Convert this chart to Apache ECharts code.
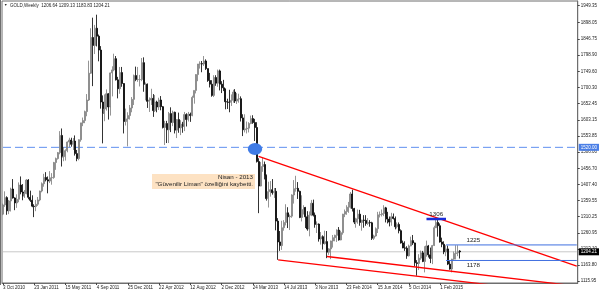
<!DOCTYPE html>
<html><head><meta charset="utf-8">
<script src="https://cdn.jsdelivr.net/npm/echarts@6.0.0/dist/echarts.min.js"></script>
<style>html,body{margin:0;padding:0;background:#fff;}#chart{width:600px;height:293px;}</style>
</head><body><div id="chart"></div>
<script>
// ---- data ----
const startDate = '2010-10-03';
const missingWeeks = ['2012-01-01', '2014-12-28'];
const totalSlots = 295;
const opens = [1318,1346,1368,1328,1358,1394,1367,1352,1363,1406,1385,1373,1380,1421,1369,1360,1342,1341,1348,1361,
1388,1410,1429,1422,1418,1428,1429,1474,1486,1504,1556,1491,1492,1510,1536,1542,1529,1539,1501,1486,
1543,1594,1601,1628,1663,1744,1852,1828,1880,1856,1814,1657,1623,1636,1682,1642,1745,1754,1788,1724,
1697,1746,1713,1598,1606,1616,1639,1665,1737,1725,1725,1725,1776,1710,1711,1659,1663,1668,1631,1657,
1642,1663,1643,1580,1592,1573,1622,1595,1626,1572,1604,1579,1590,1584,1619,1604,1620,1616,1671,1692,
1740,1772,1773,1772,1781,1758,1722,1711,1677,1731,1714,1751,1711,1700,1697,1658,1657,1656,1662,1687,
1660,1666,1667,1609,1573,1576,1578,1592,1607,1595,1580,1477,1403,1462,1468,1435,1365,1386,1392,1383,
1387,1297,1234,1223,1277,1293,1322,1310,1312,1376,1395,1396,1387,1308,1332,1338,1310,1273,1315,1351,
1315,1287,1288,1243,1250,1229,1235,1203,1213,1237,1247,1254,1270,1240,1262,1318,1323,1326,1339,1379,
1335,1294,1304,1318,1293,1300,1299,1290,1293,1292,1245,1252,1274,1316,1317,1320,1337,1310,1303,1294,
1310,1305,1280,1287,1268,1231,1216,1215,1192,1222,1238,1231,1171,1169,1185,1201,1175,1191,1222,1195,
1184,1223,1277,1293,1283,1234,1227,1204,1213,1167,1152,1182,1199,1201,1206.64];
const highs = [1350,1387,1372,1361,1398,1424,1369,1378,1414,1432,1409,1391,1424,1424,1389,1375,1348,1361,1370,1389,
1414,1440,1445,1432,1448,1442,1476,1489,1506,1569,1577,1521,1514,1538,1549,1549,1548,1556,1512,1544,
1594,1610,1631,1681,1782,1880,1912,1890,1921,1861,1826,1677,1680,1695,1684,1746,1765,1803,1796,1733,
1763,1763,1714,1637,1626,1648,1672,1740,1764,1763,1739,1790,1792,1716,1713,1671,1697,1681,1678,1661,
1670,1675,1645,1600,1600,1627,1641,1631,1628,1605,1625,1602,1597,1627,1623,1627,1625,1676,1692,1741,
1772,1780,1781,1796,1786,1758,1745,1723,1738,1738,1755,1755,1720,1724,1697,1667,1694,1680,1694,1696,
1684,1682,1674,1620,1620,1598,1596,1616,1617,1606,1596,1487,1476,1488,1477,1438,1416,1418,1424,1397,
1397,1306,1267,1298,1300,1348,1339,1317,1378,1421,1434,1415,1389,1375,1345,1340,1327,1326,1361,1362,
1323,1296,1290,1264,1254,1268,1267,1215,1238,1255,1256,1272,1279,1268,1319,1332,1345,1355,1385,1392,
1337,1307,1332,1331,1301,1315,1315,1306,1300,1295,1256,1278,1325,1326,1332,1345,1340,1325,1311,1322,
1320,1311,1293,1293,1272,1238,1236,1221,1226,1250,1255,1232,1179,1197,1208,1207,1221,1238,1225,1217,
1225,1283,1307,1305,1290,1247,1236,1224,1223,1176,1183,1205,1224,1224,1209.13];
const lows = [1315,1340,1316,1318,1326,1365,1330,1337,1354,1378,1360,1367,1378,1363,1355,1339,1309,1327,1343,1357,
1384,1401,1417,1381,1412,1407,1425,1452,1483,1499,1462,1478,1480,1505,1520,1522,1512,1495,1478,1481,
1537,1584,1593,1614,1660,1742,1705,1802,1825,1780,1637,1532,1599,1631,1604,1616,1674,1750,1722,1668,
1682,1703,1562,1586,1523,1604,1626,1648,1720,1718,1704,1720,1688,1662,1639,1627,1648,1612,1627,1626,
1633,1632,1577,1527,1533,1533,1566,1584,1562,1548,1564,1557,1564,1569,1583,1598,1597,1614,1652,1683,
1720,1758,1747,1766,1754,1718,1701,1673,1672,1706,1703,1692,1684,1690,1635,1636,1626,1645,1655,1654,
1651,1655,1598,1554,1565,1562,1565,1590,1591,1539,1474,1321,1402,1446,1423,1359,1338,1371,1377,1367,
1269,1180,1207,1210,1268,1284,1276,1270,1307,1350,1386,1364,1306,1296,1317,1276,1268,1251,1312,1311,
1277,1261,1235,1226,1211,1226,1185,1195,1182,1217,1236,1234,1238,1239,1256,1309,1316,1322,1335,1326,
1288,1277,1289,1283,1268,1277,1283,1285,1280,1240,1240,1250,1261,1308,1311,1312,1293,1290,1281,1283,
1302,1272,1275,1260,1229,1215,1207,1183,1190,1221,1225,1160,1132,1149,1180,1173,1142,1190,1187,1170,
1167,1222,1276,1250,1232,1218,1197,1191,1164,1150,1142,1180,1181,1191,1183.83];
const closes = [1346,1368,1328,1358,1394,1367,1352,1363,1406,1385,1373,1380,1421,1369,1360,1342,1341,1348,1361,1388,
1410,1429,1422,1418,1428,1429,1474,1486,1504,1556,1491,1492,1510,1536,1542,1529,1539,1501,1486,1543,
1594,1601,1628,1663,1744,1852,1828,1880,1856,1814,1657,1623,1636,1682,1642,1745,1754,1788,1724,1697,
1746,1713,1598,1606,1616,1639,1665,1737,1725,1725,1725,1776,1710,1711,1659,1663,1668,1631,1657,1642,
1663,1643,1580,1592,1573,1622,1595,1626,1572,1604,1579,1590,1584,1619,1604,1620,1616,1671,1692,1740,
1772,1773,1772,1781,1758,1722,1711,1677,1731,1714,1751,1711,1700,1697,1658,1657,1656,1662,1687,1660,
1666,1667,1609,1573,1576,1578,1592,1607,1595,1580,1477,1403,1462,1468,1435,1365,1386,1392,1383,1387,
1297,1234,1223,1277,1293,1322,1310,1312,1376,1395,1396,1387,1308,1332,1338,1310,1273,1315,1351,1315,
1287,1288,1243,1250,1229,1235,1203,1213,1237,1247,1254,1270,1240,1262,1318,1323,1326,1339,1379,1335,
1294,1304,1318,1293,1300,1299,1290,1293,1292,1245,1252,1274,1316,1317,1320,1337,1310,1303,1294,1310,
1305,1280,1287,1268,1231,1216,1215,1192,1222,1238,1231,1171,1169,1185,1201,1175,1191,1222,1195,1184,
1223,1277,1293,1283,1234,1227,1204,1213,1167,1152,1182,1199,1201,1206,1204.21];
const xTickLabels = ['3 Oct 2010','23 Jan 2011','15 May 2011','4 Sep 2011','25 Dec 2011','22 Apr 2012','12 Aug 2012','2 Dec 2012','24 Mar 2013','14 Jul 2013','3 Nov 2013','23 Feb 2014','15 Jun 2014','5 Oct 2014','1 Feb 2015'];
const xTickEvery = 16;
const yTicks = [1949.35,1898.05,1846.75,1798.90,1749.60,1700.30,1652.45,1603.15,1553.85,1506.00,1456.70,1407.40,1359.55,1310.25,1260.95,1213.10,1163.80,1115.95];
const yMin = 1109.9, yMax = 1962.35;
const titleOHLC = [1206.64, 1209.13, 1183.83, 1204.21];
const safeHavenLevel = 1520;
const lastPrice = 1204.21;
const resistance = {level: 1225, from: 227, labelAt: 241, to: 294};
const support = {level: 1178, from: 227, labelAt: 241, to: 294};
const peak = {level: 1303, from: 217, labelAt: 222, to: 227, text: '1306'};
const upperTrend = [[131, 1493], [294, 1161]];
const lowerTrendA = [[166, 1190], [294, 1100.5]];
const lowerTrendB = [[141, 1180], [294, 1073.4]];
const noteLines = ['Nisan - 2013', '"Güvenilir Liman" özelliğini kaybetti.'];

// ---- categories (weekly bars) ----
const cats = [];
{
  let t = Date.parse(startDate + 'T00:00:00Z');
  while (cats.length < totalSlots) {
    const s = new Date(t).toISOString().slice(0, 10);
    if (!missingWeeks.includes(s)) cats.push(s);
    t += 7 * 86400000;
  }
}
const ohlc = opens.map((o, i) => [o, closes[i], lows[i], highs[i]]);
const pts = (arr) => arr.map(p => [cats[p[0]], p[1]]);
const FONT = 'Liberation Sans';

function levelSeries(l, pos, width, color) {
  return {
    type: 'line', symbol: 'circle', symbolSize: 0.01, silent: true, z: 4,
    lineStyle: {color: color, width: width},
    data: [
      {value: [cats[l.from], l.level]},
      {value: [cats[l.labelAt], l.level], label: {show: true, position: pos, distance: 2, formatter: l.text || String(l.level), fontSize: 6.2, fontFamily: FONT, color: '#222'}},
      {value: [cats[l.to], l.level]}
    ]
  };
}
function trendSeries(p) {
  return {type: 'line', symbol: 'none', silent: true, z: 3, clip: true,
    lineStyle: {color: '#ff0000', width: 1.3}, data: pts(p)};
}
function hLineSeries(level, lineColor, dash, labelBg) {
  return {
    type: 'line', symbol: 'none', silent: true, z: 1,
    lineStyle: {color: lineColor, type: dash, width: 1},
    data: [[cats[0], level], [cats[totalSlots - 1], level]],
    markLine: {
      silent: true, symbol: 'none', animation: false,
      lineStyle: {color: 'rgba(0,0,0,0)', width: 0.01},
      label: {show: true, position: 'end', distance: 1, formatter: level.toFixed(2), fontSize: 4.5, fontFamily: FONT,
        color: '#ffffff', backgroundColor: labelBg, padding: [1, 2], opacity: 1},
      data: [{yAxis: level}]
    }
  };
}

const chart = echarts.init(document.getElementById('chart'), null, {renderer: 'canvas'});
chart.setOption({
  animation: false,
  backgroundColor: '#fff',
  grid: {left: 2, right: 22, top: 1, bottom: 10, show: true, borderColor: '#6e6e6e', borderWidth: 1},
  xAxis: {
    type: 'category', data: cats, boundaryGap: true,
    axisLine: {show: true, lineStyle: {color: '#6e6e6e'}},
    axisTick: {show: true, alignWithLabel: true, length: 2, lineStyle: {color: '#444'},
      interval: (i) => i % xTickEvery === 0 && i / xTickEvery < xTickLabels.length},
    axisLabel: {interval: (i) => i % xTickEvery === 0 && i / xTickEvery < xTickLabels.length,
      formatter: (v, i) => xTickLabels[i / xTickEvery] || '', align: 'left', margin: 2,
      fontSize: 4.5, fontFamily: FONT, color: '#222'},
    splitLine: {show: false}
  },
  yAxis: {
    type: 'value', position: 'right', min: yMin, max: yMax,
    axisLine: {show: true, lineStyle: {color: '#6e6e6e'}},
    axisTick: {show: true, length: 2, customValues: yTicks, lineStyle: {color: '#444'}},
    axisLabel: {customValues: yTicks, formatter: (v) => v.toFixed(2), margin: 3,
      fontSize: 4.5, fontFamily: FONT, color: '#222'},
    splitLine: {show: false}
  },
  series: [
    hLineSeries(lastPrice, '#c9c9c9', 'solid', '#000000'),
    hLineSeries(safeHavenLevel, '#5f90f0', [8, 4], '#4b7fe6'),
    {
      type: 'candlestick', data: ohlc, barWidth: 1.5, z: 2,
      itemStyle: {color: '#c0c0c0', color0: '#000000', borderColor: '#7a7a7a', borderColor0: '#000000', borderWidth: 0.8}
    },
    trendSeries(upperTrend),
    trendSeries(lowerTrendA),
    trendSeries(lowerTrendB),
    levelSeries(resistance, 'top', 1, '#3f6fe0'),
    levelSeries(support, 'bottom', 1, '#3f6fe0'),
    levelSeries(peak, 'top', 2.5, '#1a2bd8')
  ],
  graphic: [
    {type: 'line', shape: {x1: 0.5, y1: 0, x2: 0.5, y2: 285}, style: {stroke: '#6e6e6e', lineWidth: 1}, silent: true},
    {type: 'text', left: 4, top: 3, style: {text: '▼', fontSize: 3.5, fill: '#222', fontFamily: FONT}, silent: true},
    {type: 'text', left: 10, top: 3, style: {text: 'GOLD,Weekly  ' + titleOHLC.map(v => v.toFixed(2)).join(' '), fontSize: 4.5, fill: '#222', fontFamily: FONT}, silent: true},
    {type: 'circle', shape: {cx: 255, cy: 149, r: 6}, scaleX: 1.2, originX: 255, originY: 149, style: {fill: '#3f7be6'}, z: 10, silent: true},
    {type: 'rect', shape: {x: 152, y: 174, width: 103, height: 15}, style: {fill: '#fde2c3'}, z: 5, silent: true},
    {type: 'text', x: 253, y: 177.5, style: {text: noteLines[0], fontSize: 6.2, fontFamily: FONT, fill: '#222', align: 'right', verticalAlign: 'middle'}, z: 6, silent: true},
    {type: 'text', x: 253, y: 184.5, style: {text: noteLines[1], fontSize: 6.2, fontFamily: FONT, fill: '#222', align: 'right', verticalAlign: 'middle'}, z: 6, silent: true}
  ]
});
</script></body></html>
